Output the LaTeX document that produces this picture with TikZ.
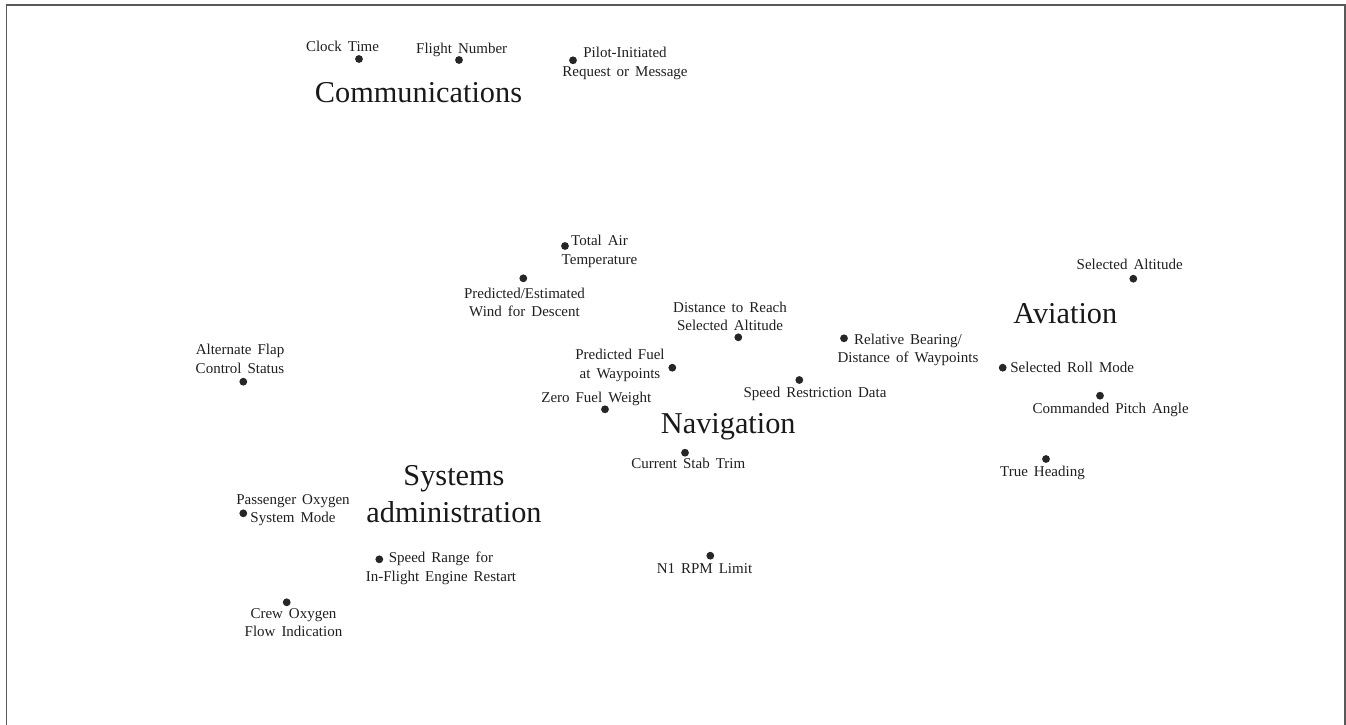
\documentclass[tikz,border=0pt]{standalone}
\usepackage{fontspec}
\setmainfont{Liberation Serif}
\newcommand\lblfont{\fontsize{15}{18.5}\selectfont\spaceskip=0.4em plus 0.1em\relax}
\newcommand\bigfont{\fontsize{30.3}{37.5}\selectfont}
\begin{document}
\begin{tikzpicture}[x=1pt,y=-1pt,
  dot/.style={circle, fill=black!85, draw=none, inner sep=0pt, minimum size=7.8pt},
  lbl/.style={font=\lblfont, inner sep=0pt, align=center, anchor=base, text=black!88},
  big/.style={font=\bigfont, inner sep=0pt, align=center, anchor=base, text=black!90},
  frame/.style={draw=black!65, line width=1.8pt}]
\useasboundingbox (0,0) rectangle (1346,725);
\coordinate (fbl) at (6.5,725);
\coordinate (ftl) at (6.5,4.7);
\coordinate (ftr) at (1345.3,4.7);
\coordinate (fbr) at (1345.3,725);
\draw[frame] (fbl) -- (ftl) -- (ftr) -- (fbr);

% category titles (anchor base = baseline of last line)
\node[big] (comm) at (418.5,102.5) {Communications};
\node[big] (nav) at (728.3,433) {Navigation};
\node[big] (avi) at (1065.3,323.5) {Aviation};
\node[big] (sys) at (454,522.5) {Systems\\administration};

% dots
\node[dot] (d1) at (359,59) {};
\node[dot] (d2) at (459,60) {};
\node[dot] (d3) at (573,60.3) {};
\node[dot] (d4) at (565,246) {};
\node[dot] (d5) at (523.3,278.3) {};
\node[dot] (d6) at (738.3,337.3) {};
\node[dot] (d7) at (672.3,367.7) {};
\node[dot] (d8) at (605,409.3) {};
\node[dot] (d9) at (799.3,380) {};
\node[dot] (d10) at (844,338.3) {};
\node[dot] (d11) at (1133.3,278.7) {};
\node[dot] (d12) at (1002.7,367.7) {};
\node[dot] (d13) at (1100,395.7) {};
\node[dot] (d14) at (1046,459) {};
\node[dot] (d15) at (243.3,381.7) {};
\node[dot] (d16) at (243.3,513.3) {};
\node[dot] (d17) at (379.3,559.3) {};
\node[dot] (d18) at (286.7,602.3) {};
\node[dot] (d19) at (685,452.7) {};
\node[dot] (d20) at (710.3,555.7) {};

% labels (anchor base = baseline of last line)
\node[lbl] (l1) at (342.5,51.2) {Clock Time};
\node[lbl] (l2) at (461.7,53.8) {Flight Number};
\node[lbl] (l3) at (625,76.2) {Pilot-Initiated\\Request or Message};
\node[lbl] (l4) at (599.5,264) {Total Air\\Temperature};
\node[lbl] (l5) at (524.5,316.5) {Predicted/Estimated\\Wind for Descent};
\node[lbl] (l6) at (730,330.5) {Distance to Reach\\Selected Altitude};
\node[lbl] (l7) at (620,378.2) {Predicted Fuel\\at Waypoints};
\node[lbl] (l8) at (596.3,402.2) {Zero Fuel Weight};
\node[lbl] (l9) at (815,397.8) {Speed Restriction Data};
\node[lbl] (l10) at (908,362.5) {Relative Bearing/\\Distance of Waypoints};
\node[lbl] (l11) at (1129.7,269.8) {Selected Altitude};
\node[lbl] (l12) at (1072.2,372.2) {Selected Roll Mode};
\node[lbl] (l13) at (1110.7,413.2) {Commanded Pitch Angle};
\node[lbl] (l14) at (1042.5,476.2) {True Heading};
\node[lbl] (l15) at (240,373.2) {Alternate Flap\\Control Status};
\node[lbl] (l16) at (293,522.8) {Passenger Oxygen\\System Mode};
\node[lbl] (l17) at (441,581) {Speed Range for\\In-Flight Engine Restart};
\node[lbl] (l18) at (293.5,636.5) {Crew Oxygen\\Flow Indication};
\node[lbl] (l19) at (688.3,468.8) {Current Stab Trim};
\node[lbl] (l20) at (704.5,573.8) {N1 RPM Limit};
\end{tikzpicture}
\end{document}
